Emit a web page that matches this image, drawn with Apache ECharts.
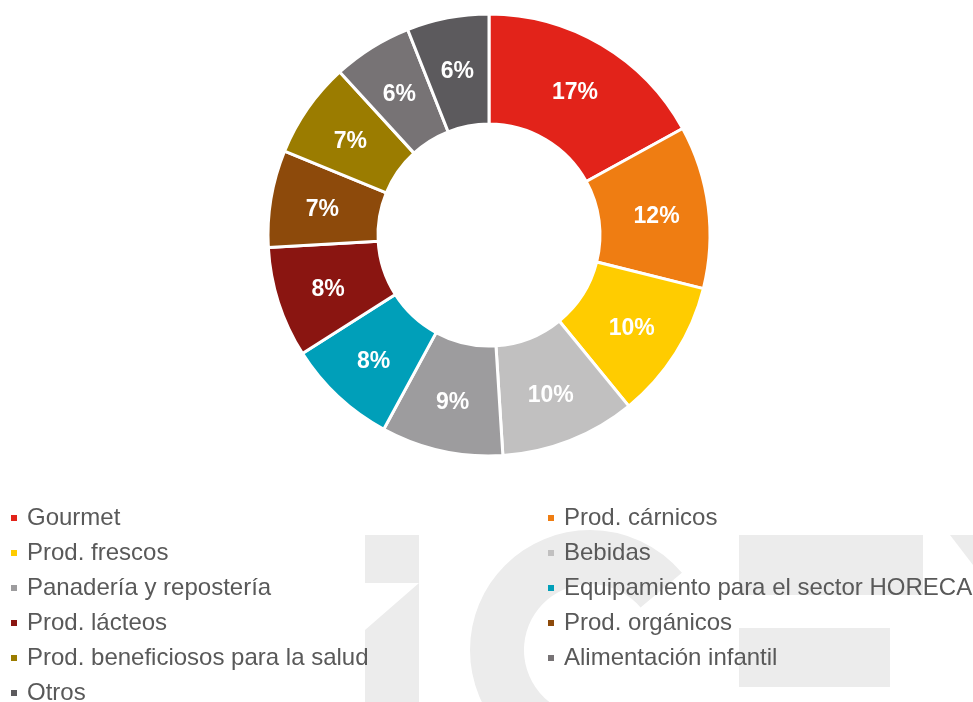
<!DOCTYPE html>
<html>
<head>
<meta charset="utf-8">
<script src="https://cdn.jsdelivr.net/npm/echarts@6/dist/echarts.min.js"></script>
<style>
html,body{margin:0;padding:0;background:#fff;}
#chart{width:973px;height:702px;}
</style>
</head>
<body>
<div id="chart"></div>
<script>
const categories = ["Gourmet","Prod. cárnicos","Prod. frescos","Bebidas","Panadería y repostería","Equipamiento para el sector HORECA","Prod. lácteos","Prod. orgánicos","Prod. beneficiosos para la salud","Alimentación infantil","Otros"];
const values = [17.0, 11.9, 10.2, 9.9, 8.9, 8.1, 8.1, 7.1, 7.0, 5.8, 6.0];
const colors = ["#e2231a","#ef7d12","#ffcc00","#c1c0c0","#9d9c9e","#009fb9","#8a1511","#8d4a0b","#9b7c00","#777375","#5c5a5d"];
const leftLegend = [categories[0],categories[2],categories[4],categories[6],categories[8],categories[10]];
const rightLegend = [categories[1],categories[3],categories[5],categories[7],categories[9]];

const chart = echarts.init(document.getElementById('chart'), null, {renderer:'canvas'});
const wm = '#ececec';
const legendBase = {
  orient:'vertical', icon:'rect', itemWidth:6, itemHeight:6, itemGap:11,
  top:501, height:240, padding:5,
  selectedMode:false,
  itemStyle:{borderWidth:0},
  textStyle:{fontFamily:'Liberation Sans, Arial, sans-serif', fontSize:24, lineHeight:24, color:'#595959', padding:[0,0,0,5]}
};
chart.setOption({
  animation:false,
  color: colors,
  graphic:[
    {type:'rect', z:-10, shape:{x:365,y:535,width:54,height:48}, style:{fill:wm}},
    {type:'polygon', z:-10, shape:{points:[[419,583],[419,702],[365,702],[365,630]]}, style:{fill:wm}},
    {type:'sector', z:-10, shape:{cx:590, cy:650, r:120, r0:66, startAngle:Math.PI/2, endAngle:320*Math.PI/180, clockwise:true}, style:{fill:wm}},
    {type:'rect', z:-10, shape:{x:739,y:535,width:184,height:60}, style:{fill:wm}},
    {type:'rect', z:-10, shape:{x:739,y:628,width:151,height:59}, style:{fill:wm}},
    {type:'polygon', z:-10, shape:{points:[[950,535],[973,535],[973,565]]}, style:{fill:wm}}
  ],
  legend:[
    Object.assign({}, legendBase, {left:6, data:leftLegend}),
    Object.assign({}, legendBase, {left:543, data:rightLegend})
  ],
  series:[{
    type:'pie',
    center:[489,235],
    radius:[111,221],
    startAngle:90,
    clockwise:true,
    avoidLabelOverlap:false,
    itemStyle:{borderColor:'#fff', borderWidth:3},
    label:{
      show:true, position:'inside',
      formatter: p => Math.round(p.percent) + '%',
      color:'#fff', fontSize:23, fontWeight:'bold',
      fontFamily:'Liberation Sans, Arial, sans-serif',
      offset:[0,3]
    },
    labelLine:{show:false},
    emphasis:{disabled:true},
    data: categories.map((c,i)=>({name:c, value:values[i]}))
  }]
});
</script>
</body>
</html>
